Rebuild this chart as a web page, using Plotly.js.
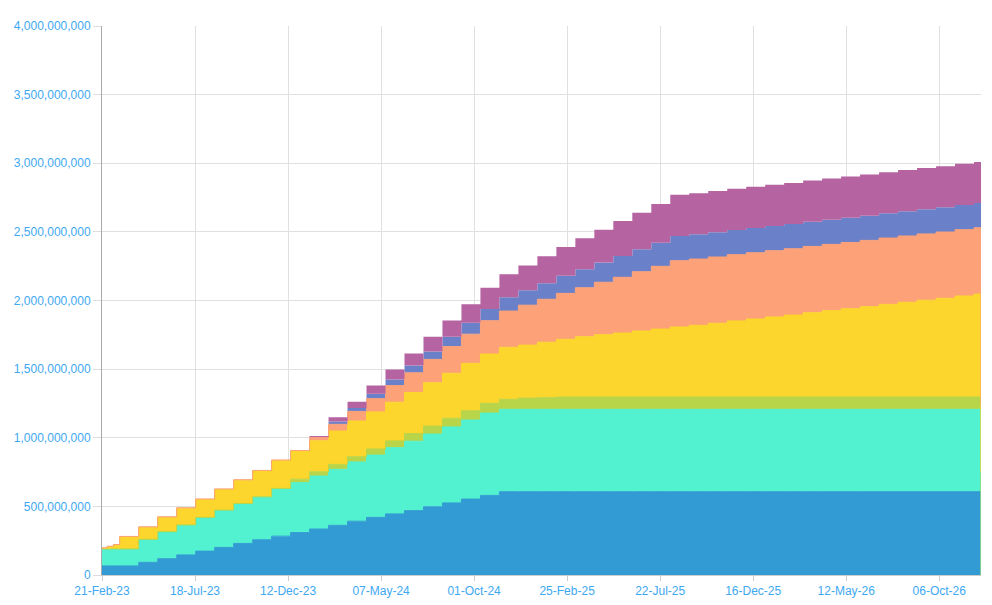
<!DOCTYPE html>
<html>
<head>
<meta charset="utf-8">
<script src="https://cdn.plot.ly/plotly-3.0.1.min.js"></script>
<style>html,body{margin:0;padding:0;background:#fff}#chart{width:992px;height:605px}</style>
</head>
<body>
<div id="chart"></div>
<script>
// Step dates (data points)
const dates = [
  "2023-02-21","2023-03-01","2023-03-11","2023-03-21","2023-04-20","2023-05-20","2023-06-19","2023-07-19",
  "2023-08-18","2023-09-17","2023-10-17","2023-11-16","2023-12-16","2024-01-15","2024-02-14","2024-03-15",
  "2024-04-14","2024-05-14","2024-06-13","2024-07-13","2024-08-12","2024-09-11","2024-10-11","2024-11-10",
  "2024-12-10","2025-01-09","2025-02-08","2025-03-10","2025-04-09","2025-05-09","2025-06-08","2025-07-08",
  "2025-08-07","2025-09-06","2025-10-06","2025-11-05","2025-12-05","2026-01-04","2026-02-03","2026-03-05",
  "2026-04-04","2026-05-04","2026-06-03","2026-07-03","2026-08-02","2026-09-01","2026-10-01","2026-10-31",
  "2026-11-30","2026-12-11"
];

// Series values in millions (bottom to top of the stack)
const seriesBlue = [66,66,66,66,92,119,146,174,201,230,257,283,309,335,362,392,420,445,469,497,525,553,580,
  607,607,607,607,607,607,607,607,607,607,607,607,607,607,607,607,607,607,607,607,607,607,607,607,607,607];
const seriesAqua = [124,124,124,124,168,197,219,246,272,291,313,345,364,386,408,432,454,483,506,530,554,576,600,
  600,600,600,600,600,600,600,600,600,600,600,600,600,600,600,600,600,600,600,600,600,600,600,600,600,600];
const seriesGreen = [0,0,0,0,0,0,0,0,0,0,0,3,25,31,36,38,44,49,56,58,63,68,71,
  73,82,85,90,90,90,90,90,90,90,90,90,90,90,90,90,90,90,90,90,90,90,90,90,90,90];
const seriesYellow = [5,17,29,88,88,105,122,131,151,170,189,204,206,226,243,260,270,282,299,316,328,345,359,
  379,386,404,420,439,454,466,481,495,510,522,537,554,568,583,597,614,629,643,658,675,690,705,719,736,750,750];
const seriesSalmon = [3,3,3,3,3,3,3,3,3,3,3,3,3,24,49,70,97,121,143,170,194,213,243,
  264,291,313,335,357,382,406,432,457,483,483,483,483,483,483,483,483,483,483,483,483,483,483,483,483,483,483];
const seriesSlate = [0,0,0,0,0,0,0,0,0,0,0,0,0,3,20,25,35,45,54,58,71,82,85,
  100,109,117,128,134,143,155,163,172,180,180,180,180,180,180,180,180,180,180,180,180,180,180,180,180,180,180];
const seriesPurple = [0,0,0,0,0,0,0,0,0,0,0,0,0,8,31,45,60,73,87,106,119,136,155,
  168,180,197,209,226,240,255,267,282,300,300,300,300,300,300,300,300,300,300,300,300,300,300,300,300,300,300];

const seriesNames = ["Series 1","Series 2","Series 3","Series 4","Series 5","Series 6","Series 7"];
const seriesColors = ["#339bd3","#52f2d0","#b8d54a","#fcd62c","#fca178","#6a80c9","#b563a1"];
const lineWidths = [1,1,1,1,1,0,0];

const tickDates = ["2023-02-21","2023-07-18","2023-12-12","2024-05-07","2024-10-01",
  "2025-02-25","2025-07-22","2025-12-16","2026-05-12","2026-10-06"];
const yTicks = [0,500000000,1000000000,1500000000,2000000000,2500000000,3000000000,3500000000,4000000000];

const allSeries = [seriesBlue,seriesAqua,seriesGreen,seriesYellow,seriesSalmon,seriesSlate,seriesPurple];
const traces = allSeries.map((s,i)=>({
  type:"scatter", mode:"lines", x:dates, y:s.map(v=>v*1e6),
  name:seriesNames[i], stackgroup:"one",
  line:{shape:"hv", color:seriesColors[i], width:lineWidths[i]},
  fillcolor:seriesColors[i], hoverinfo:"x+y+name"
}));

const tickFont = {family:"Liberation Sans, Arial, sans-serif", size:12, color:"#3ea8f2"};
const layout = {
  width:992, height:605,
  margin:{l:102, r:11, t:26, b:30, pad:0},
  paper_bgcolor:"#ffffff", plot_bgcolor:"#ffffff",
  showlegend:false,
  xaxis:{
    type:"date", range:["2023-02-21","2026-12-11"],
    tickmode:"array", tickvals:tickDates, tickformat:"%d-%b-%y",
    showgrid:true, gridcolor:"#e0e0e0", gridwidth:1,
    ticks:"outside", ticklen:5, tickcolor:"#cccccc",
    showline:true, linecolor:"#cccccc", linewidth:1,
    tickfont:tickFont, zeroline:false, fixedrange:true
  },
  yaxis:{
    range:[0,4000000000], tickmode:"array", tickvals:yTicks,
    tickformat:",d",
    showgrid:true, gridcolor:"#e0e0e0", gridwidth:1,
    ticks:"outside", ticklen:8, tickcolor:"#dddddd",
    showline:true, linecolor:"#aaaaaa", linewidth:1,
    tickfont:tickFont, zeroline:false, fixedrange:true
  }
};
Plotly.newPlot("chart", traces, layout, {displayModeBar:false, staticPlot:true});
</script>
</body>
</html>
